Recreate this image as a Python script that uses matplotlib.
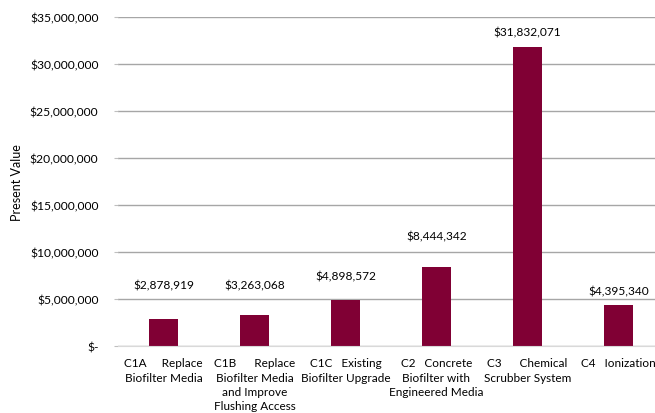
import matplotlib
matplotlib.use('Agg')
import matplotlib.pyplot as plt
from matplotlib.ticker import FuncFormatter

# chart data
categories = [
    'C1A     Replace\nBiofilter Media',
    'C1B      Replace\nBiofilter Media\nand Improve\nFlushing Access',
    'C1C   Existing\nBiofilter Upgrade',
    'C2   Concrete\nBiofilter with\nEngineered Media',
    'C3      Chemical\nScrubber System',
    'C4   Ionization',
]
present_values = [2878919, 3263068, 4898572, 8444342, 31832071, 4395340]
y_ticks = [0, 5000000, 10000000, 15000000, 20000000, 25000000, 30000000, 35000000]

# label offsets above bar tops (pixels), as placed in the original
label_offsets = [34, 30, 24, 31, 15, 14]

plt.rcParams['font.family'] = ['Lato', 'DejaVu Sans']

fig = plt.figure(figsize=(6.55, 4.14), dpi=100)
ax = fig.add_axes([118 / 655, (414 - 347) / 414, 546 / 655, 329 / 414])

x = range(len(categories))
bars = ax.bar(x, present_values, width=0.31, color='#800034', zorder=3)

for i, v in enumerate(present_values):
    ax.annotate(f'${v:,.0f}', (i, v), xytext=(0, label_offsets[i]),
                textcoords='offset pixels', ha='center', va='center',
                fontsize=8.6, color='#000000')

ax.set_xlim(-0.5, len(categories) - 0.5)
ax.set_ylim(0, 35000000)
ax.set_yticks(y_ticks)
ax.yaxis.set_major_formatter(FuncFormatter(lambda v, p: '$-' if v == 0 else f'${v:,.0f}'))
ax.set_xticks(list(x))
ax.set_xticklabels(categories, fontsize=8.5, linespacing=1.38, va='top')
ax.tick_params(axis='y', labelsize=8.7, length=3, color='#BFBFBF', pad=11)
ax.tick_params(axis='x', length=0, pad=8)

ax.grid(axis='y', color='#A6A6A6', linewidth=1, zorder=0)
for s in ['top', 'right', 'left']:
    ax.spines[s].set_visible(False)
ax.spines['bottom'].set_color('#D9D9D9')
ax.spines['bottom'].set_zorder(4)

ax.set_ylabel('Present Value', fontsize=9)
ax.yaxis.set_label_coords((23 - 118) / 546, 0.5)

fig.savefig('out.png', dpi=100)
